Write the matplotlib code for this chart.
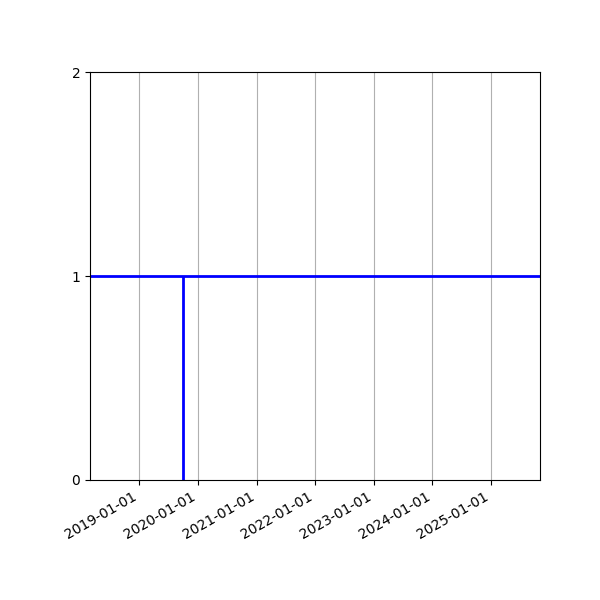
import datetime as dt

import matplotlib
matplotlib.use('Agg')
import matplotlib.pyplot as plt
import matplotlib.dates as mdates

# data
x_start = dt.date(2018, 3, 1)
x_end = dt.date(2025, 11, 1)
level = 1
event_date = dt.date(2019, 10, 1)
year_ticks = [dt.date(y, 1, 1) for y in range(2019, 2026)]
y_ticks = [0, 1, 2]

fig, ax = plt.subplots(figsize=(6, 6), dpi=100)

ax.axhline(level, color='blue', linewidth=2)
ax.vlines(event_date, 0, level, color='blue', linewidth=2)

ax.set_xlim(x_start, x_end)
ax.set_ylim(y_ticks[0], y_ticks[-1])
ax.set_yticks(y_ticks)
ax.set_xticks(year_ticks)
ax.xaxis.set_major_formatter(mdates.DateFormatter('%Y-%m-%d'))
ax.grid(True, axis='x', color='#b0b0b0')

fig.autofmt_xdate()
fig.subplots_adjust(left=0.15, right=0.9, top=0.88, bottom=0.2)
fig.savefig('out.png')
